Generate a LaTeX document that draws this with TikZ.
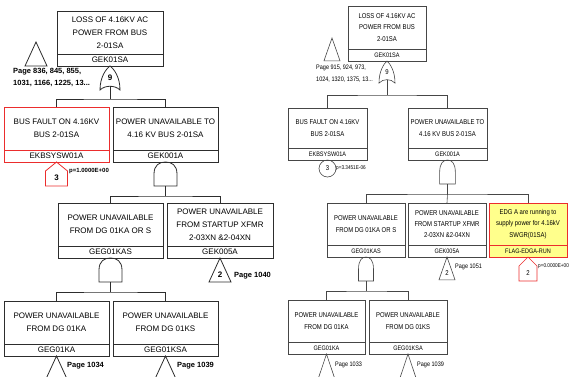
\documentclass[tikz,border=0pt]{standalone}
\usepackage{fontspec}
\setmainfont{Liberation Sans}
\newfontfamily\narrowf[FakeStretch=0.85]{Liberation Sans}
\definecolor{lnc}{RGB}{45,45,45}
\definecolor{lnr}{RGB}{70,70,70}
\definecolor{redc}{RGB}{235,45,45}
\definecolor{flagy}{RGB}{255,255,140}
\tikzset{
  boxL/.style={draw=lnc, line width=0.8pt, inner sep=0pt, outer sep=0pt, align=center,
    font=\fontsize{8}{13}\selectfont, anchor=north west, minimum height=43pt},
  labL/.style={draw=lnc, line width=0.8pt, inner sep=0pt, outer sep=0pt, align=center,
    font=\fontsize{8}{9}\selectfont, anchor=north, minimum height=12pt},
  boxR/.style={draw=lnr, line width=0.6pt, inner sep=0pt, outer sep=0pt, align=center,
    font=\narrowf\fontsize{7}{11.3}\selectfont, anchor=north west, minimum height=42pt},
  labR/.style={draw=lnr, line width=0.6pt, inner sep=0pt, outer sep=0pt, align=center,
    font=\narrowf\fontsize{6.5}{7}\selectfont, anchor=north, minimum height=12pt},
  connL/.style={draw=lnc, line width=0.8pt},
  connR/.style={draw=lnr, line width=0.6pt},
  gateline/.style={draw=lnc, line width=0.8pt},
  gatelab/.style={font=\fontsize{8}{9}\selectfont\bfseries, inner sep=0pt},
  pageL/.style={font=\fontsize{7.5}{12}\selectfont\bfseries, inner sep=0pt, anchor=west, align=left},
  pageR/.style={font=\narrowf\fontsize{6.5}{12.5}\selectfont, inner sep=0pt, anchor=west, align=left},
  probL/.style={font=\fontsize{6}{7}\selectfont\bfseries, inner sep=0pt, anchor=west},
  probR/.style={font=\narrowf\fontsize{5.5}{6}\selectfont, inner sep=0pt, anchor=west},
  pics/orgate/.style={code={
    \draw[gateline] (0,0) .. controls (4,3) and (10,11) .. (10,24)
      .. controls (5,19) and (-5,19) .. (-10,24)
      .. controls (-10,11) and (-4,3) .. cycle;
    \node[gatelab] at (0,12) {#1};
    \coordinate (-out) at (0,20.3);}},
  pics/andgate/.style={code={
    \draw[gateline] (-11.5,24) -- (-11.5,12) .. controls (-11.5,3) and (-6,0) .. (0,0)
      .. controls (6,0) and (11.5,3) .. (11.5,12) -- (11.5,24) -- cycle;
    \coordinate (-out) at (0,24);}},
  pics/trigate/.style={code={
    \draw[gateline] (0,0) -- (11,24) -- (-11,24) -- cycle;
    \node[gatelab] at (0,17) {#1};}},
  pics/housegate/.style={code={
    \draw[gateline, draw=redc] (0,0) -- (11,9) -- (11,24) -- (-11,24) -- (-11,9) -- cycle;
    \node[gatelab] at (0,16) {#1};}},
  pics/circgate/.style={code={
    \draw[gateline] (0,8.5) circle (8.5);
    \node[gatelab] at (0,8.5) {#1};}},
}
\begin{document}
\begin{tikzpicture}[x=1pt,y=-1pt]
\useasboundingbox (0,0) rectangle (571,376);

% ================= LEFT PANEL =================
\begin{scope}
% top
\node[boxL, minimum width=106pt] (t1) at (57,11) {LOSS OF 4.16KV AC\\POWER FROM BUS\\2-01SA};
\node[labL, minimum width=106pt] (t1l) at (t1.south) {GEK01SA};
\pic (xo) at (36,42) {trigate=};
\node[pageL] (pg1) at (13,77.5) {Page 836, 845, 855,\\1031, 1166, 1225, 13...};
\pic (g9) at (t1l.south) {orgate=9};
\coordinate (b1) at (110,99);
% row 2
\node[boxL, minimum width=105pt, draw=redc] (e1) at (4,107) {BUS FAULT ON 4.16KV\\BUS 2-01SA};
\node[labL, minimum width=105pt, draw=redc] (e1l) at (e1.south) {EKBSYSW01A};
\node[boxL, minimum width=105pt] (a1) at (113,107) {POWER UNAVAILABLE TO\\4.16 KV BUS 2-01SA};
\node[labL, minimum width=105pt] (a1l) at (a1.south) {GEK001A};
\draw[connL] (g9-out) -- (b1);
\draw[connL] (e1.north) |- (b1) -| (a1.north);
\pic (h3) at (e1l.south) {housegate=3};
\node[probL] (p1) at (69,171) {p=1.0000E+00};
\pic (ga1) at (a1l.south) {andgate};
\coordinate (b2) at (165.5,196);
% row 3
\node[boxL, minimum width=105pt] (a2) at (58,203) {POWER UNAVAILABLE\\FROM DG 01KA OR S};
\node[labL, minimum width=105pt] (a2l) at (a2.south) {GEG01KAS};
\node[boxL, minimum width=106pt] (a3) at (167,203) {POWER UNAVAILABLE\\FROM STARTUP XFMR\\2-03XN \&2-04XN};
\node[labL, minimum width=106pt] (a3l) at (a3.south) {GEK005A};
\draw[connL] (ga1-out) -- (b2);
\draw[connL] (a2.north) |- (b2) -| (a3.north);
\pic (ga2) at (a2l.south) {andgate};
\pic (tr2) at (a3l.south) {trigate=2};
\node[pageL] (pg2) at (234,276) {Page 1040};
\coordinate (b3) at (110.5,292);
% row 4
\node[boxL, minimum width=105pt] (a4) at (4,301) {POWER UNAVAILABLE\\FROM DG 01KA};
\node[labL, minimum width=105pt] (a4l) at (a4.south) {GEG01KA};
\node[boxL, minimum width=105pt] (a5) at (113,301) {POWER UNAVAILABLE\\FROM DG 01KS};
\node[labL, minimum width=105pt] (a5l) at (a5.south) {GEG01KSA};
\draw[connL] (ga2-out) -- (b3);
\draw[connL] (a4.north) |- (b3) -| (a5.north);
\pic (tr4) at (a4l.south) {trigate=};
\pic (tr5) at (a5l.south) {trigate=};
\node[pageL] (pg4) at (67,366) {Page 1034};
\node[pageL] (pg5) at (177,366) {Page 1039};
\end{scope}

% ================= RIGHT PANEL =================
\begin{scope}[gateline/.style={draw=lnr, line width=0.6pt},
  gatelab/.style={font=\narrowf\fontsize{7}{8}\selectfont, inner sep=0pt}]
\node[boxR, minimum width=78pt, minimum height=43pt] (rt1) at (348,6) {LOSS OF 4.16KV AC\\POWER FROM BUS\\2-01SA};
\node[labR, minimum width=78pt] (rt1l) at (rt1.south) {GEK01SA};
\pic[xscale=0.73, yscale=0.95] (rxo) at (332,38) {trigate=};
\node[pageR] (rpg1) at (316,73.5) {Page 915, 924, 973,\\1024, 1320, 1375, 13...};
\pic[xscale=0.8, yscale=0.92] (rg9) at (rt1l.south) {orgate=9};
\coordinate (rb1) at (387,95);
% row 2
\node[boxR, minimum width=79pt, minimum height=40pt] (re1) at (288,108) {BUS FAULT ON 4.16KV\\BUS 2-01SA};
\node[labR, minimum width=79pt] (re1l) at (re1.south) {EKBSYSW01A};
\node[boxR, minimum width=79pt, minimum height=40pt] (ra1) at (408,108) {POWER UNAVAILABLE TO\\4.16 KV BUS 2-01SA};
\node[labR, minimum width=79pt] (ra1l) at (ra1.south) {GEK001A};
\draw[connR] (rg9-out) -- (rb1);
\draw[connR] (re1.north) |- (rb1) -| (ra1.north);
\pic (rc3) at (re1l.south) {circgate=3};
\node[probR] (rp1) at (336,168) {p=3.3451E-06};
\pic[xscale=0.68] (rga1) at (ra1l.south) {andgate};
\coordinate (rb2) at (447.5,194);
% row 3
\node[boxR, minimum width=78pt] (ra2) at (327,203) {POWER UNAVAILABLE\\FROM DG 01KA OR S};
\node[labR, minimum width=78pt] (ra2l) at (ra2.south) {GEG01KAS};
\node[boxR, minimum width=78pt] (ra3) at (408,203) {POWER UNAVAILABLE\\FROM STARTUP XFMR\\2-03XN \&2-04XN};
\node[labR, minimum width=78pt] (ra3l) at (ra3.south) {GEK005A};
\node[boxR, minimum width=78pt, draw=redc, fill=flagy] (rf) at (489,203) {EDG A are running to\\supply power for 4.16kV\\SWGR(01SA)};
\node[labR, minimum width=78pt, draw=redc, fill=flagy] (rfl) at (rf.south) {FLAG-EDGA-RUN};
\draw[connR] (rga1-out) -- (rb2);
\draw[connR] (ra2.north) |- (rb2) -| (rf.north);
\draw[connR] (rb2) -- (ra3.north);
\pic[xscale=0.65] (rga2) at (ra2l.south) {andgate};
\pic[xscale=0.73, yscale=0.95] (rtr2) at (ra3l.south) {trigate=2};
\node[pageR] (rpg2) at (455,267) {Page 1051};
\pic[xscale=0.82] (rh2) at (rfl.south) {housegate=2};
\node[probR] (rp2) at (538,266) {p=0.0000E+00};
\coordinate (rb3) at (366,291);
% row 4
\node[boxR, minimum width=77pt] (ra4) at (288,300) {POWER UNAVAILABLE\\FROM DG 01KA};
\node[labR, minimum width=77pt] (ra4l) at (ra4.south) {GEG01KA};
\node[boxR, minimum width=78pt] (ra5) at (369,300) {POWER UNAVAILABLE\\FROM DG 01KS};
\node[labR, minimum width=78pt] (ra5l) at (ra5.south) {GEG01KSA};
\draw[connR] (rga2-out) -- (rb3);
\draw[connR] (ra4.north) |- (rb3) -| (ra5.north);
\pic[xscale=0.73] (rtr4) at (ra4l.south) {trigate=};
\pic[xscale=0.73] (rtr5) at (ra5l.south) {trigate=};
\node[pageR] (rpg4) at (335,365) {Page 1033};
\node[pageR] (rpg5) at (417,365) {Page 1039};
\end{scope}
\end{tikzpicture}
\end{document}
